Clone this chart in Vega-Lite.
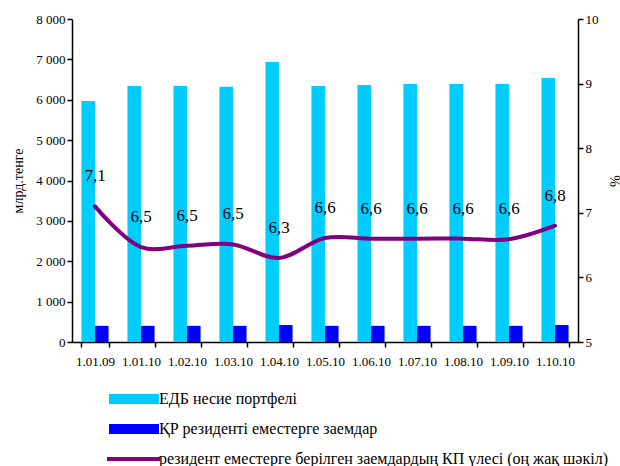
{
  "$schema": "https://vega.github.io/schema/vega-lite/v6.json",
  "width": 506,
  "height": 323,
  "autosize": "none",
  "padding": {"left": 72, "top": 19, "right": 42, "bottom": 124},
  "config": {
    "view": {"stroke": null},
    "font": "Times New Roman, Liberation Serif, serif",
    "locale": {"number": {"decimal": ",", "thousands": " ", "grouping": [3], "currency": ["", ""]}},
    "axis": {"domainColor": "black", "tickColor": "black", "labelColor": "black", "titleColor": "black", "grid": false, "labelFont": "Times New Roman, Liberation Serif, serif", "titleFont": "Times New Roman, Liberation Serif, serif", "labelFontSize": 13, "titleFontWeight": "normal", "titleFontSize": 14, "domainWidth": 1.5, "tickWidth": 1.5, "tickSize": 5},
    "legend": {"labelFont": "Times New Roman, Liberation Serif, serif"},
    "text": {"font": "Times New Roman, Liberation Serif, serif"}
  },
  "data": {"values": [
    {"date": "1.01.09", "series": "ЕДБ несие портфелі", "value": 5970},
    {"date": "1.01.10", "series": "ЕДБ несие портфелі", "value": 6340},
    {"date": "1.02.10", "series": "ЕДБ несие портфелі", "value": 6340},
    {"date": "1.03.10", "series": "ЕДБ несие портфелі", "value": 6320},
    {"date": "1.04.10", "series": "ЕДБ несие портфелі", "value": 6935},
    {"date": "1.05.10", "series": "ЕДБ несие портфелі", "value": 6340},
    {"date": "1.06.10", "series": "ЕДБ несие портфелі", "value": 6365},
    {"date": "1.07.10", "series": "ЕДБ несие портфелі", "value": 6390},
    {"date": "1.08.10", "series": "ЕДБ несие портфелі", "value": 6390},
    {"date": "1.09.10", "series": "ЕДБ несие портфелі", "value": 6390},
    {"date": "1.10.10", "series": "ЕДБ несие портфелі", "value": 6540},
    {"date": "1.01.09", "series": "ҚР резиденті еместерге заемдар", "value": 400},
    {"date": "1.01.10", "series": "ҚР резиденті еместерге заемдар", "value": 400},
    {"date": "1.02.10", "series": "ҚР резиденті еместерге заемдар", "value": 400},
    {"date": "1.03.10", "series": "ҚР резиденті еместерге заемдар", "value": 400},
    {"date": "1.04.10", "series": "ҚР резиденті еместерге заемдар", "value": 420},
    {"date": "1.05.10", "series": "ҚР резиденті еместерге заемдар", "value": 400},
    {"date": "1.06.10", "series": "ҚР резиденті еместерге заемдар", "value": 400},
    {"date": "1.07.10", "series": "ҚР резиденті еместерге заемдар", "value": 400},
    {"date": "1.08.10", "series": "ҚР резиденті еместерге заемдар", "value": 400},
    {"date": "1.09.10", "series": "ҚР резиденті еместерге заемдар", "value": 400},
    {"date": "1.10.10", "series": "ҚР резиденті еместерге заемдар", "value": 420},
    {"date": "1.01.09", "series": "резидент еместерге берілген заемдардың КП үлесі (оң жақ шәкіл)", "value": 7.1},
    {"date": "1.01.10", "series": "резидент еместерге берілген заемдардың КП үлесі (оң жақ шәкіл)", "value": 6.47},
    {"date": "1.02.10", "series": "резидент еместерге берілген заемдардың КП үлесі (оң жақ шәкіл)", "value": 6.49},
    {"date": "1.03.10", "series": "резидент еместерге берілген заемдардың КП үлесі (оң жақ шәкіл)", "value": 6.51},
    {"date": "1.04.10", "series": "резидент еместерге берілген заемдардың КП үлесі (оң жақ шәкіл)", "value": 6.3},
    {"date": "1.05.10", "series": "резидент еместерге берілген заемдардың КП үлесі (оң жақ шәкіл)", "value": 6.61},
    {"date": "1.06.10", "series": "резидент еместерге берілген заемдардың КП үлесі (оң жақ шәкіл)", "value": 6.6},
    {"date": "1.07.10", "series": "резидент еместерге берілген заемдардың КП үлесі (оң жақ шәкіл)", "value": 6.6},
    {"date": "1.08.10", "series": "резидент еместерге берілген заемдардың КП үлесі (оң жақ шәкіл)", "value": 6.6},
    {"date": "1.09.10", "series": "резидент еместерге берілген заемдардың КП үлесі (оң жақ шәкіл)", "value": 6.59},
    {"date": "1.10.10", "series": "резидент еместерге берілген заемдардың КП үлесі (оң жақ шәкіл)", "value": 6.8}
  ]},
  "encoding": {
    "x": {"field": "date", "type": "ordinal", "sort": null,
      "scale": {"paddingInner": 0.41, "paddingOuter": 0.205},
      "axis": {"title": null, "labelAngle": 0, "tickBand": "extent", "labelPadding": 8}},
    "color": {"field": "series", "type": "nominal",
      "scale": {"domain": ["ЕДБ несие портфелі", "ҚР резиденті еместерге заемдар", "резидент еместерге берілген заемдардың КП үлесі (оң жақ шәкіл)"], "range": ["#00CCFF", "#0000FF", "#800080"]},
      "legend": {"title": null, "orient": "none", "legendX": 32, "legendY": 372, "direction": "vertical", "symbolType": "M-1,-1.67H15.67V1.67H-1Z", "symbolSize": 36, "symbolStrokeWidth": 0, "symbolOpacity": 1, "labelFontSize": 16, "labelColor": "black", "rowPadding": 14, "labelOffset": 39, "labelLimit": 500,
        "encode": {"symbols": {"update": {"shape": {"signal": "datum.value === 'резидент еместерге берілген заемдардың КП үлесі (оң жақ шәкіл)' ? 'M-1.67,-0.67H16V0.67H-1.67Z' : 'M-1,-1.67H15.67V1.67H-1Z'"}}}}}
    }
  },
  "layer": [
    {
      "transform": [{"filter": "datum.series !== 'резидент еместерге берілген заемдардың КП үлесі (оң жақ шәкіл)'"}],
      "mark": {"type": "bar"},
      "encoding": {
        "xOffset": {"field": "series", "type": "nominal", "sort": null, "scale": {"paddingInner": 0, "paddingOuter": 0}},
        "y": {"field": "value", "type": "quantitative", "scale": {"domain": [0, 8000]},
          "axis": {"orient": "left", "title": "млрд.тенге", "values": [0, 1000, 2000, 3000, 4000, 5000, 6000, 7000, 8000], "format": ",d", "titlePadding": 10}}
      }
    },
    {
      "transform": [{"filter": "datum.series === 'резидент еместерге берілген заемдардың КП үлесі (оң жақ шәкіл)'"}],
      "encoding": {
        "y": {"field": "value", "type": "quantitative", "scale": {"domain": [5, 10]},
          "axis": {"orient": "right", "title": "%", "values": [5, 6, 7, 8, 9, 10], "titlePadding": 8}}
      },
      "layer": [
        {"mark": {"type": "line", "interpolate": "catmull-rom", "strokeWidth": 4, "strokeCap": "round"}},
        {"mark": {"type": "text", "dy": -30, "fontSize": 17, "color": "black"},
          "encoding": {"text": {"field": "value", "type": "quantitative", "format": ".1f"}, "color": {"value": "black"}}}
      ]
    }
  ],
  "resolve": {"scale": {"y": "independent", "xOffset": "independent"}}
}
